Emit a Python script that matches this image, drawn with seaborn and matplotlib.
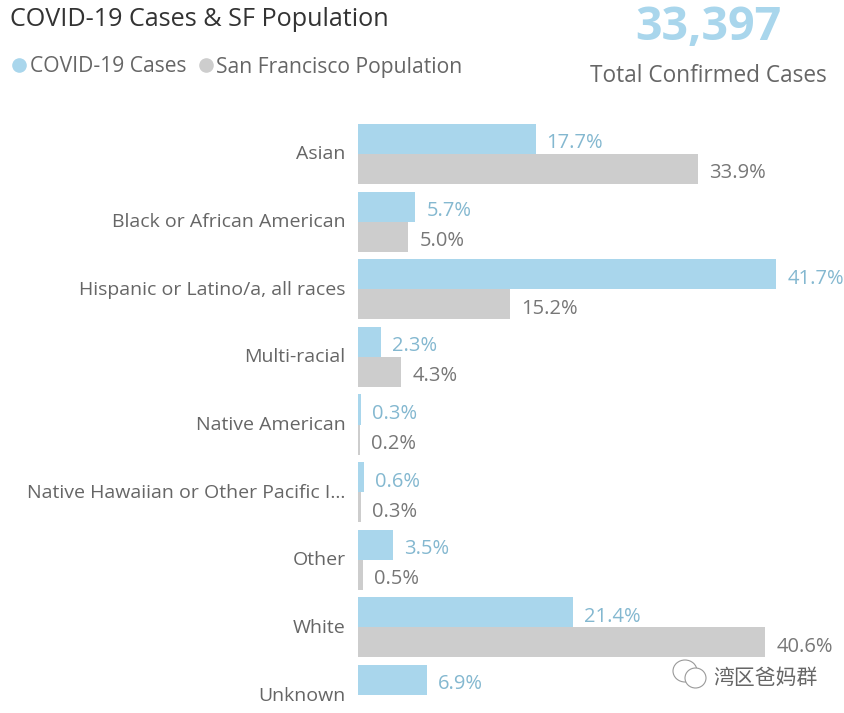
import matplotlib
matplotlib.use("Agg")
import matplotlib.pyplot as plt
import pandas as pd
import seaborn as sns
from matplotlib.lines import Line2D
from matplotlib.patches import Ellipse
from matplotlib.transforms import ScaledTranslation

categories = [
    "Asian",
    "Black or African American",
    "Hispanic or Latino/a, all races",
    "Multi-racial",
    "Native American",
    "Native Hawaiian or Other Pacific I...",
    "Other",
    "White",
    "Unknown",
]
covid_cases = [17.7, 5.7, 41.7, 2.3, 0.3, 0.6, 3.5, 21.4, 6.9]
population = [33.9, 5.0, 15.2, 4.3, 0.2, 0.3, 0.5, 40.6, 0.0]
series_names = ["COVID-19 Cases", "San Francisco Population"]
colors = ["#A9D6EC", "#CDCDCD"]
label_colors = ["#84B8D0", "#777777"]

W, H = 845, 713
sns.set_theme(style="white")
plt.rcParams["font.family"] = ["Open Sans", "DejaVu Sans"]

df = pd.DataFrame({"category": categories, series_names[0]: covid_cases, series_names[1]: population})
long_df = df.melt(id_vars="category", var_name="series", value_name="share")

fig = plt.figure(figsize=(W / 100, H / 100), dpi=100)
ax = fig.add_axes([358 / W, 0, (W - 358) / W, (H - 117) / H])
sns.barplot(data=long_df, y="category", x="share", hue="series", palette=colors, order=categories,
            hue_order=series_names, width=0.888, gap=0.0, saturation=1, legend=False, linewidth=0, ax=ax)
ax.set_xlim(0, 487 / 10.03)
ax.set_ylim(8.266, -0.547)
sns.despine(ax=ax, left=True, bottom=True)
ax.set_xlabel("")
ax.set_ylabel("")
ax.set_xticks([])
ax.tick_params(axis="y", length=0, pad=9, labelsize=14, labelcolor="#666666")
for tick in ax.get_yticklabels():
    tick.set_transform(tick.get_transform() + ScaledTranslation(0, 1.5 / 100, fig.dpi_scale_trans))

for container, c, vals in zip(ax.containers, label_colors, [covid_cases, population]):
    labels = [f"{v:.1f}%" if v > 0 else "" for v in vals]
    for t in ax.bar_label(container, labels=labels, padding=8, color=c, fontsize=14.5):
        # labels sit a little below the bar centre
        t.xyann = (8, -3.2)

fig.text(10 / W, 1 - 19 / H, "COVID-19 Cases & SF Population", fontsize=18.1, color="#333333", va="center")
handles = [Line2D([], [], ls="", marker="o", ms=9.5, color=c) for c in colors]
fig.legend(handles, series_names, loc="center left", bbox_to_anchor=(13 / W, 1 - 67 / H), ncol=2, frameon=False,
           fontsize=15.25, labelcolor="#666666", handlelength=0.6, handletextpad=0.2, columnspacing=0.6,
           borderpad=0, borderaxespad=0)
fig.text(708 / W, 1 - 27 / H, "33,397", fontsize=33.6, fontweight="bold", color="#A9D6EC", ha="center", va="center")
fig.text(708 / W, 1 - 76 / H, "Total Confirmed Cases", fontsize=16.3, color="#666666", ha="center", va="center")

# watermark, wechat bubbles and name
for cx, cy, bw, bh in [(685, 671, 24, 22), (695.5, 678, 21, 20)]:
    fig.add_artist(Ellipse((cx / W, 1 - cy / H), bw / W, bh / H, transform=fig.transFigure,
                           facecolor="white", edgecolor="#999999", linewidth=0.8))
fig.text(818 / W, 1 - 678 / H, "湾区爸妈群", fontsize=15, color="#666666", ha="right", va="center",
         family=["Noto Sans CJK SC", "DejaVu Sans"])
fig.savefig("out.png", dpi=100)
